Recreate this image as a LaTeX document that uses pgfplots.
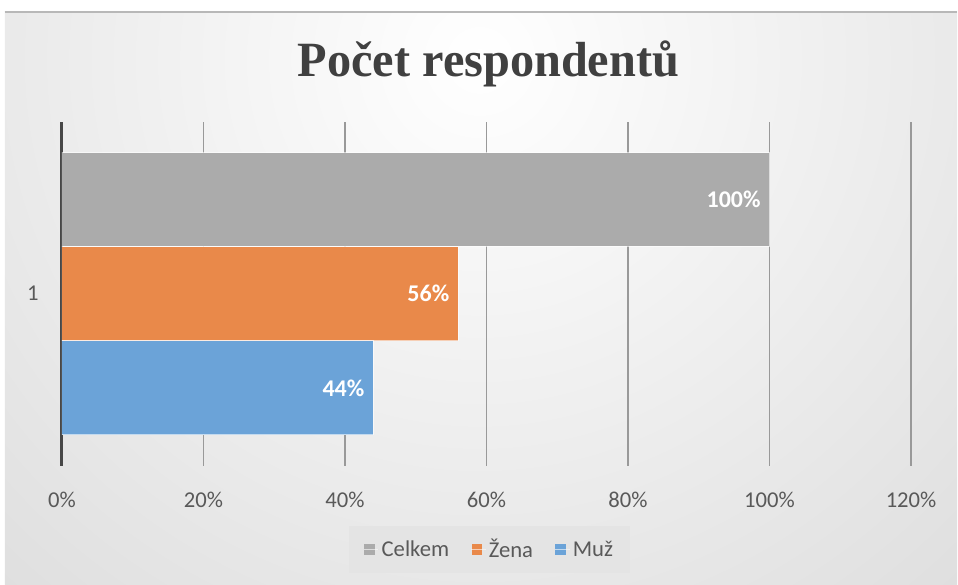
\documentclass[border=0pt]{standalone}
\usepackage{fontspec}
\setmainfont{Carlito}
\newfontfamily\titlefont{Liberation Serif}
\usepackage{pgfplots}
\pgfplotsset{compat=1.18}
\definecolor{cgray}{HTML}{ABABAB}
\definecolor{corange}{HTML}{E9894A}
\definecolor{cblue}{HTML}{6BA3D8}
\definecolor{bgout}{HTML}{C0C0C0}
\definecolor{legbg}{HTML}{E4E4E4}
\pgfplotsset{
  sq/.style={legend image code/.code={\node[fill=#1, draw=none, rectangle, minimum width=8pt, minimum height=8pt, inner sep=0pt, anchor=west] at (0pt,0pt) {};
    \path (0pt,0pt) -- (11pt,0pt);}}
}
\begin{document}
\begin{tikzpicture}[x=0.75pt,y=0.75pt]
\fill[white] (0,0) rectangle (958,585);
\begin{scope}
\clip (5,0) rectangle (958,573);
\shade[inner color=white, outer color=bgout] (480,525) circle (1400);
\end{scope}
\draw[color=black!28, line width=1.5pt] (5,573) -- (958,573);
\node[font=\titlefont\bfseries\fontsize{37}{40}\selectfont, text=black!75, anchor=base] at (489,508) {\scalebox{0.98}[1]{Počet respondentů}};
\begin{axis}[
  at={(46.5pt,89.25pt)}, anchor=south west, scale only axis,
  width=637.5pt, height=258pt,
  xbar, bar shift=0pt, bar width=0.273,
  xmin=0, xmax=120, ymin=0.5, ymax=1.5,
  axis line style={draw=none},
  xtick={20,40,60,80,100,120},
  xticklabels={20\%,40\%,60\%,80\%,100\%,120\%},
  extra x ticks={0}, extra x tick labels={0\%},
  extra x tick style={grid style={color=black!72, line width=2.2pt}},
  xmajorgrids, grid style={color=black!40, line width=0.9pt},
  ytick={1}, yticklabels={1},
  major tick length=0pt,
  tick label style={font=\fontsize{17}{20}\selectfont, text=black!65},
  xticklabel style={anchor=base, yshift=-31.5pt},
  yticklabel style={anchor=center, xshift=-21.75pt},
  /pgf/number format/assume math mode=true,
  point meta=x,
  nodes near coords={\pgfmathprintnumber{\pgfplotspointmeta}\%},
  nodes near coords style={anchor=east, text=white, font=\bfseries\fontsize{18}{20}\selectfont, xshift=-3pt},
  legend style={at={(0.5035,-0.244)}, anchor=center, draw=none, fill=legbg,
    font=\fontsize{17}{20}\selectfont, text=black!65, legend columns=3,
    inner xsep=11pt, inner ysep=8pt,
    /tikz/every even column/.append style={column sep=14pt}},
]
\addplot[fill=cgray, draw=white, draw opacity=0.6, line width=0.8pt, sq=cgray] coordinates {(100,1.274)};
\addplot[fill=corange, draw=white, draw opacity=0.6, line width=0.8pt, sq=corange] coordinates {(56,1)};
\addplot[fill=cblue, draw=white, draw opacity=0.6, line width=0.8pt, sq=cblue] coordinates {(44,0.726)};
\legend{Celkem, Žena, Muž}
\end{axis}
\end{tikzpicture}
\end{document}
